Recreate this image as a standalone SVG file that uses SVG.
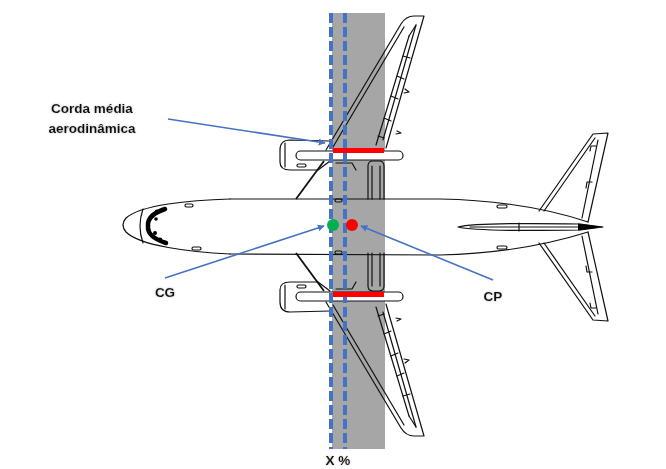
<svg xmlns="http://www.w3.org/2000/svg" width="666" height="469" viewBox="0 0 666 469">
<defs>
<style>
.ln{fill:none;stroke:#111;stroke-width:1.2;stroke-linejoin:round;stroke-linecap:round}
.thk{fill:none;stroke:#111;stroke-width:1.8}
.wf{fill:#fff;stroke:#111;stroke-width:1.2}
.arw{fill:none;stroke:#4472C4;stroke-width:1.6}
.dash{stroke:#4472C4;stroke-width:4;stroke-dasharray:10 4}
.lbl{font-family:"Liberation Sans",Arial,sans-serif;font-weight:bold;font-size:13.5px;fill:#111}
</style>
<marker id="ah" viewBox="0 0 10 10" refX="9" refY="5" markerWidth="7" markerHeight="7" orient="auto" markerUnits="userSpaceOnUse">
<path d="M0,0 L10,5 L0,10 Z" fill="#4472C4"/>
</marker>
<filter id="glow" x="-10%" y="-30%" width="120%" height="160%">
<feGaussianBlur in="SourceAlpha" stdDeviation="1.2" result="b"/>
<feFlood flood-color="#999" flood-opacity="0.6"/>
<feComposite in2="b" operator="in" result="s"/>
<feMerge><feMergeNode in="s"/><feMergeNode in="SourceGraphic"/></feMerge>
</filter>
<g id="wingHalf">
<path class="ln" d="M326,150 L401,24 Q406,16 414,16 L424,16 L386,148"/>
<path class="ln" d="M333,147 L404,27"/>
<path class="ln" d="M416,25 L383,140"/>
<path class="ln" d="M409,36 L376,145"/>
<path class="ln" d="M416,25 L409,36 M403,56 L410,58 M397,76 L404,79 M391,96 L398,99 M384,118 L391,121 M378,136 L384,138"/>
<path class="ln" d="M405,89 L409,92 L404,93 M397,131 L401,133 L396,134"/>
<path class="ln" d="M330,141 L290,140 Q280,140 280,150 L280,162 Q280,170 290,170 L318,170 L330,161"/>
<path class="ln" d="M285,143 L285,167"/>
<rect class="wf" x="296" y="151" width="107" height="9" rx="4.5"/>
<rect class="ln" x="297" y="164" width="9" height="3" rx="1.5"/>
<path class="thk" d="M296,199 L324,161"/>
<path class="ln" d="M368,199 L368,166 Q368,161 373,161 L379,161 Q384,161 384,166 L384,199 M372,199 L372,166 M380,199 L380,166"/>
<path class="ln" d="M336,163 L352,163 L356,170"/>
</g>
<g id="stabHalf">
<path class="ln" d="M539,211 L593,134 L608,133 L588,222"/>
<path class="ln" d="M544,211 L595,138"/>
<path class="ln" d="M598,140 L582,218"/>
<path class="ln" d="M596,146 L591,146 L590,151 M592,182 L587,182 L586,188"/>
</g>
</defs>
<rect width="666" height="469" fill="#fff"/>
<rect id="band" x="332" y="13" width="53" height="436" fill="#A6A6A6"/>
<g id="airplane">
<use href="#wingHalf"/>
<use href="#wingHalf" transform="translate(0,452) scale(1,-1)"/>
<use href="#stabHalf"/>
<use href="#stabHalf" transform="translate(0,454) scale(1,-1)"/>
<path class="ln" d="M230,199 L440,199 C490,200 540,206 588,222 M230,254 L440,255 C490,254 540,247 588,232"/>
<path class="ln" d="M230,199 C190,200 140,205 126,218 Q120,225 126,232 C140,246 190,252 230,254"/>
<path class="ln" d="M143,209 Q137,226 143,243"/>
<path d="M165,209 Q147,215 148,226 Q147,237 166,243" fill="none" stroke="#000" stroke-width="4.5" stroke-linecap="round"/>
<circle cx="157" cy="212" r="2.4" fill="#000"/>
<circle cx="160" cy="240" r="2.4" fill="#000"/>
<circle cx="155" cy="233" r="2" fill="#000"/>
<circle cx="156" cy="219" r="1.8" fill="#000"/>
<path class="ln" d="M458,227 C470,224 520,223 580,224 L603,227 L580,230 C520,231 470,230 458,227 Z M470,227 L580,227 M519,223 L519,231"/>
<path d="M578,223.5 L603,227 L578,230.5 Z" fill="#000"/>
<rect class="ln" x="185" y="204" width="8" height="3" rx="1.5"/>
<rect class="ln" x="192" y="247" width="9" height="3" rx="1.5"/>
<rect class="ln" x="497" y="205" width="10" height="3" rx="1.5"/>
<rect class="ln" x="497" y="246" width="10" height="3" rx="1.5"/>
<rect class="ln" x="335" y="199" width="7" height="3" rx="1.5"/>
<rect class="ln" x="335" y="251" width="7" height="3" rx="1.5"/>
</g>
<g id="mac-lines">
<line class="dash" x1="331" y1="13" x2="331" y2="449"/>
<line class="dash" x1="345" y1="13" x2="345" y2="449"/>
<rect x="333" y="148" width="51" height="5" fill="#FF0000"/>
<rect x="333" y="292" width="51" height="5" fill="#FF0000"/>
</g>
<g id="cg"><circle cx="333" cy="225" r="6" fill="#00B050"/></g>
<g id="cp"><circle cx="352" cy="225" r="6" fill="#FF0000"/></g>
<g id="connectors">
<line class="arw" x1="168" y1="119" x2="325" y2="143" marker-end="url(#ah)"/>
<line class="arw" x1="165" y1="278" x2="324" y2="226" marker-end="url(#ah)"/>
<line class="arw" x1="493" y1="280" x2="361" y2="226" marker-end="url(#ah)"/>
</g>
<g id="labels" filter="url(#glow)">
<text class="lbl" x="92" y="113" text-anchor="middle">Corda média</text>
<text class="lbl" x="92" y="133" text-anchor="middle">aerodinâmica</text>
<text class="lbl" x="165" y="297" text-anchor="middle">CG</text>
<text class="lbl" x="493" y="301" text-anchor="middle">CP</text>
<text class="lbl" x="338" y="465" text-anchor="middle">X %</text>
</g>
</svg>
